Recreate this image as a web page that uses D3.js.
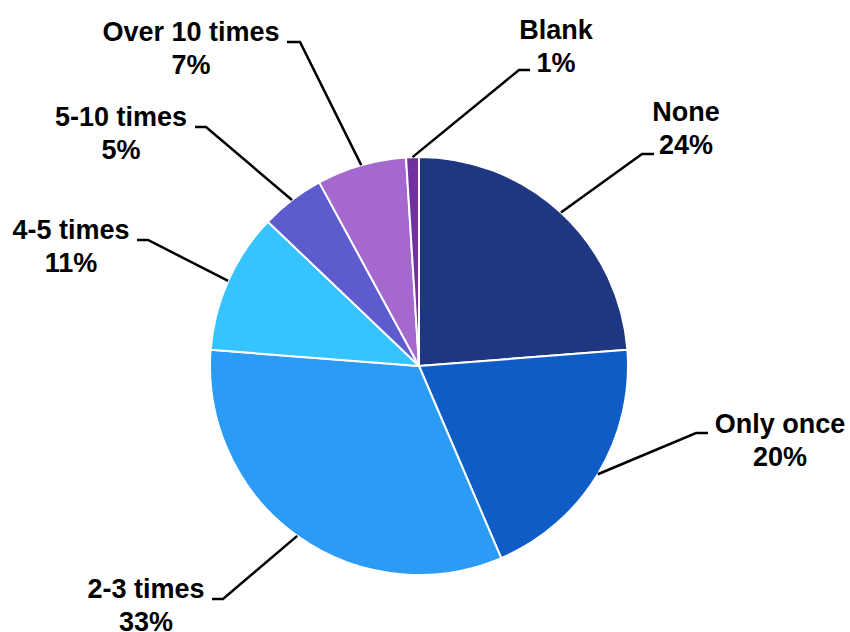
<!DOCTYPE html>
<html>
<head>
<meta charset="utf-8">
<script src="https://cdn.jsdelivr.net/npm/d3@7"></script>
<style>
  html, body { margin: 0; padding: 0; background: #ffffff; }
  svg { display: block; }
  text { font-family: "Liberation Sans", Arial, sans-serif; font-weight: bold; }
</style>
</head>
<body>
<svg id="chart" width="850" height="632"></svg>
<script>
// Survey answers, drawn clockwise from 12 o'clock
const categories = ["None", "Only once", "2-3 times", "4-5 times", "5-10 times", "Over 10 times", "Blank"];
const percents   = [24, 20, 33, 11, 5, 7, 1];
const colors     = ["#1F3681", "#105CC6", "#2B9BF6", "#35C4FF", "#5D5BCE", "#A468CF", "#7030A0"];

// Label placement: text centre x, first-line baseline y, and the short
// horizontal hook of each leader line (x of the end touching the text, x of the elbow)
const labelLayout = [
  { x: 686, y: 121, hookY: 154, hookEnd: 654, elbow: 642 },
  { x: 780, y: 433, hookY: 433, hookEnd: 708, elbow: 696 },
  { x: 146, y: 598, hookY: 599, hookEnd: 212, elbow: 223 },
  { x: 71,  y: 239, hookY: 240, hookEnd: 137, elbow: 148 },
  { x: 121, y: 126, hookY: 127, hookEnd: 195, elbow: 206 },
  { x: 191, y: 41,  hookY: 42,  hookEnd: 287, elbow: 300 },
  { x: 556, y: 39,  hookY: 70,  hookEnd: 530, elbow: 519 }
];

const cx = 419, cy = 366, radius = 209;
const svg = d3.select("#chart");

const pie = d3.pie().sort(null).value(d => d.value);
const arcs = pie(categories.map((c, i) => ({ name: c, value: percents[i], color: colors[i] })));

const arc = d3.arc().innerRadius(0).outerRadius(radius);
const rimArc = d3.arc().innerRadius(radius).outerRadius(radius);

const g = svg.append("g").attr("transform", `translate(${cx},${cy})`);

g.selectAll("path.slice")
  .data(arcs)
  .join("path")
  .attr("class", "slice")
  .attr("d", arc)
  .attr("fill", d => d.data.color)
  .attr("stroke", "#ffffff")
  .attr("stroke-width", 2)
  .attr("stroke-linejoin", "round");

// Leader lines: from the rim at the slice's middle angle to the label hook
svg.selectAll("polyline.leader")
  .data(arcs)
  .join("polyline")
  .attr("class", "leader")
  .attr("points", (d, i) => {
    const [px, py] = rimArc.centroid(d);
    const L = labelLayout[i];
    return [[cx + px, cy + py], [L.elbow, L.hookY], [L.hookEnd, L.hookY]].map(p => p.join(",")).join(" ");
  })
  .attr("fill", "none")
  .attr("stroke", "#000000")
  .attr("stroke-width", 2.5);

const labels = svg.selectAll("text.label")
  .data(arcs)
  .join("text")
  .attr("class", "label")
  .attr("text-anchor", "middle")
  .attr("font-size", 27)
  .attr("fill", "#000000");

labels.append("tspan")
  .attr("x", (d, i) => labelLayout[i].x)
  .attr("y", (d, i) => labelLayout[i].y)
  .text(d => d.data.name);

labels.append("tspan")
  .attr("x", (d, i) => labelLayout[i].x)
  .attr("y", (d, i) => labelLayout[i].y + 33)
  .text(d => d.data.value + "%");
</script>
</body>
</html>
